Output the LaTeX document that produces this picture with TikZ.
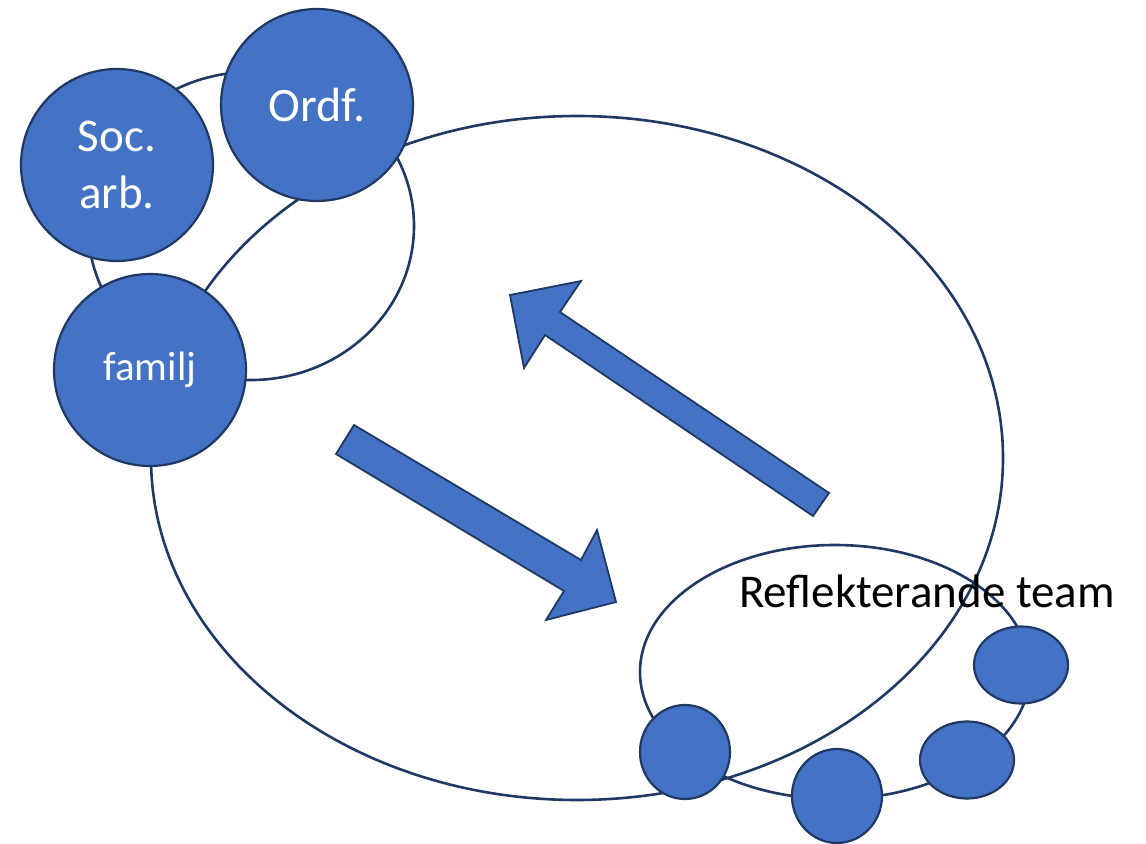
\documentclass[tikz,border=0pt]{standalone}
\usepackage{fontspec}
\setmainfont{Carlito}
\usetikzlibrary{shapes.geometric}
\definecolor{fillblue}{RGB}{68,114,196}
\definecolor{darkline}{RGB}{31,56,100}

\begin{document}
\begin{tikzpicture}[x=0.5pt,y=-0.5pt,
    ring/.style={ellipse,draw=darkline,line width=1.3pt,inner sep=0pt},
    member/.style={circle,fill=fillblue,draw=darkline,line width=1.1pt,text=white,inner sep=0pt,minimum size=96pt},
    small member/.style={ellipse,fill=fillblue,draw=darkline,line width=1.1pt,inner sep=0pt},
    flow/.style={fill=fillblue,draw=darkline,line width=0.9pt,line join=miter},
    ]
  \useasboundingbox (0,0) rectangle (1146,844);

  \node[ring, minimum width=426pt, minimum height=342pt] (room) at (577,458) {};
  \node[ring, minimum width=163pt, minimum height=154pt] (network) at (251,226) {};
  \node[ring, minimum width=195pt, minimum height=127pt] (team) at (835,672) {};

  % samtalet gaar fram och tillbaka
  \draw[flow] (354,425) -- (581,560) -- (597,530) -- (616,602) -- (546,620) -- (564,591) -- (336,454) -- cycle;
  \draw[flow] (829,493) -- (560,312) -- (581,281) -- (510,295) -- (524,368) -- (545,335) -- (813,516) -- cycle;

  \node[member, align=center, font=\fontsize{23.5}{28.5}\selectfont] (soc) at (117,165) {Soc.\\arb.};
  \node[member, font=\fontsize{24}{28}\selectfont] (ordf) at (317,105) {Ordf.};
  \node[member, font=\fontsize{20.5}{24}\selectfont] (familj) at (150,370) {familj};

  \node[small member, minimum width=45pt, minimum height=47pt] (t1) at (685,752) {};
  \node[small member, minimum width=45pt, minimum height=47pt] (t2) at (837,796) {};
  \node[small member, minimum width=47pt, minimum height=38.5pt] (t3) at (967,760) {};
  \node[small member, minimum width=47pt, minimum height=38.5pt] (t4) at (1021,665) {};

  \node[font=\fontsize{23.5}{28}\selectfont, anchor=base] (teamlabel) at (927,607) {Reflekterande team};
\end{tikzpicture}
\end{document}
